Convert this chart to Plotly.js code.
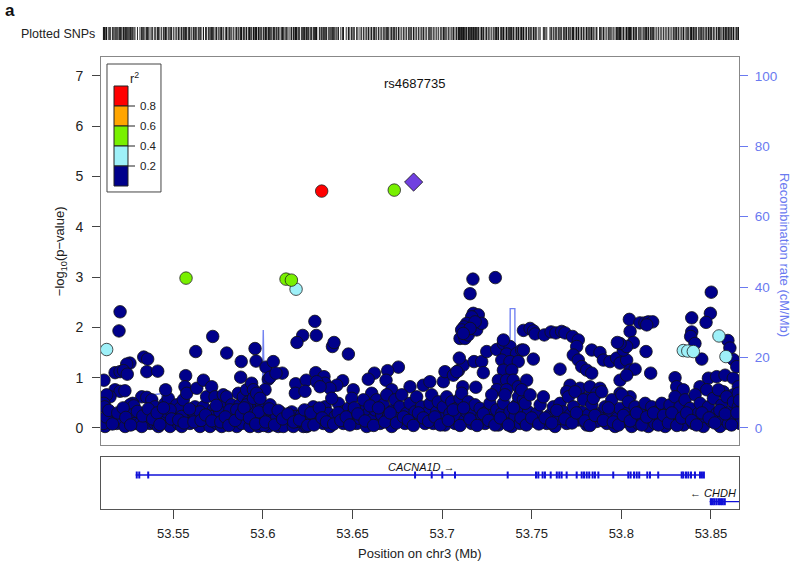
<!DOCTYPE html>
<html>
<head>
<meta charset="utf-8">
<script src="https://cdn.plot.ly/plotly-3.0.1.min.js"></script>
<style>
  body { margin: 0; background: #fff; }
  #plot { width: 800px; height: 567px; }
</style>
</head>
<body>
<div id="plot"></div>
<script>
// SNPs with r2 < 0.2 : [position (Mb), -log10 p]
const navyLeft = [
  [53.5203,2.31],[53.5197,1.93],[53.5720,1.82],[53.5625,1.52],[53.5798,1.49],[53.5956,1.58],[53.5962,1.33],
  [53.5879,1.32],[53.6017,1.21],[53.6058,1.32],[53.6222,1.84],[53.6190,1.70],[53.6290,2.12],[53.6298,1.84],
  [53.5335,1.41],[53.5357,1.37],[53.5258,1.29],[53.5240,1.27],[53.5352,1.12],[53.5413,1.13],
  [53.5175,1.10],[53.5203,1.12],[53.5222,1.14],[53.5243,1.07],[53.5113,0.95],[53.5569,1.04],[53.5876,1.01],
  [53.6030,0.97],[53.6040,1.01],[53.6108,1.09],[53.6073,1.09],[53.6183,0.88],[53.6242,0.95],[53.6181,0.69],
  [53.6235,0.73],[53.5175,0.76],[53.5203,0.73],[53.5230,0.74],[53.5147,0.62],[53.5128,0.66],[53.5113,0.49],
  [53.5117,0.42],[53.5324,0.62],[53.5352,0.61],[53.5380,0.56],[53.5398,0.42],[53.5273,0.49],[53.5258,0.46],
  [53.5280,0.44],[53.5119,0.03],[53.5147,0.13],[53.5165,0.26],[53.5212,0.13],[53.5249,0.16],[53.5268,0.26],
  [53.5286,0.09],[53.5314,0.09],[53.5342,0.13],[53.5370,0.09],[53.5398,0.09],[53.5435,0.16],[53.5454,0.23],
  [53.5463,0.32],[53.5454,0.49],[53.5472,0.59],[53.5457,0.76],[53.5500,0.09],[53.5510,0.29],[53.5519,0.46],
  [53.5537,0.39],[53.5556,0.56],[53.5565,0.82],[53.5575,0.69],[53.5584,0.29],[53.5603,0.19],[53.5621,0.42],
  [53.5631,0.79],[53.5640,0.23],[53.5668,0.95],[53.5668,0.42],[53.5686,0.62],[53.5696,0.09],[53.5714,0.82],
  [53.5723,0.36],[53.5733,0.62],[53.5751,0.23],[53.5770,0.42],[53.5779,0.66],[53.5798,0.62],[53.5798,0.09],
  [53.5826,0.46],[53.5835,0.26],[53.5854,0.03],[53.5863,0.69],[53.5872,0.46],[53.5891,0.62],[53.5909,0.76],
  [53.5900,0.16],[53.5919,0.52],[53.5937,0.89],[53.5947,0.76],[53.5956,0.42],[53.5965,0.19],[53.5984,0.16],
  [53.5993,0.46],[53.6002,0.29],[53.6012,0.76],[53.6021,0.23],[53.6030,0.03],[53.6049,0.32],[53.6058,0.16],
  [53.6077,0.23],[53.6095,0.32],[53.6105,0.09],[53.6123,0.23],[53.6133,0.09],[53.6151,0.16],[53.6161,0.32],
  [53.6179,0.23],[53.6198,0.09],[53.6216,0.26],[53.6226,0.03],[53.6254,0.16],[53.6281,0.42],
  [53.5110,0.09],[53.5184,0.09],[53.5231,0.03],[53.5324,0.03],[53.5417,0.03],[53.5482,0.03],[53.5528,0.09],
  [53.5547,0.03],[53.5593,0.09],[53.5649,0.03],[53.5705,0.03],[53.5742,0.09],[53.5770,0.03],[53.5816,0.16],
  [53.5882,0.09],[53.5928,0.03],[53.5947,0.16],[53.5975,0.03],[53.6005,0.05],[53.6086,0.03],[53.6114,0.03],
  [53.6170,0.03],[53.6188,0.13],[53.6244,0.03],[53.6263,0.09],
  [53.5482,0.36],[53.5547,0.23],[53.5612,0.32],[53.5649,0.32],[53.5705,0.23],[53.5760,0.32],[53.5816,0.36],
  [53.5854,0.36],[53.5928,0.32],[53.5975,0.32],[53.6040,0.46],[53.5909,0.46],[53.5947,0.59],[53.5965,0.69],
  [53.5984,0.59]
];
const navyMid = [
  [53.6388,1.62],[53.6397,1.70],[53.6477,1.47],[53.6756,1.21],[53.6696,1.14],[53.6687,0.95],[53.6622,1.09],
  [53.6588,0.97],[53.6295,1.10],[53.6341,1.02],[53.6347,0.89],[53.6300,0.92],[53.6445,0.94],[53.6412,0.85],
  [53.6374,0.79],[53.6319,0.82],[53.6504,0.76],[53.6607,0.69],[53.6719,0.76],[53.6821,0.82],[53.6895,0.85],
  [53.6932,0.92],[53.7007,0.92],[53.7016,1.12],[53.7063,1.05],[53.7091,1.14],[53.7118,1.25],[53.7096,1.39],
  [53.7172,2.96],[53.7297,2.99],[53.7156,2.67],
  [53.7174,2.28],[53.7202,2.25],[53.7165,2.21],[53.7137,2.08],[53.7122,2.01],[53.7109,1.95],[53.7100,1.78],
  [53.7128,1.78],[53.7146,1.85],[53.7193,1.95],[53.7221,2.08],[53.7184,2.11],[53.7156,1.98],[53.7118,1.88],
  [53.7178,1.32],[53.7221,1.32],[53.7230,1.10],[53.7188,0.81],[53.7115,0.82],[53.7082,1.12],
  [53.7249,1.52],[53.7305,1.56],[53.7342,1.68],[53.7379,1.62],[53.7360,1.47],[53.7416,1.48],[53.7444,1.55],
  [53.7342,1.75],[53.7333,1.35],[53.7379,1.32],[53.7425,1.32],[53.7342,1.15],[53.7389,1.15],[53.7314,0.95],
  [53.7360,0.95],[53.7397,0.95],[53.7425,0.82],[53.7305,0.76],[53.7360,0.76],
  [53.6272,0.23],[53.6300,0.16],[53.6291,0.32],[53.6347,0.42],[53.6365,0.29],[53.6337,0.09],[53.6375,0.03],
  [53.6403,0.23],[53.6421,0.49],[53.6384,0.59],[53.6449,0.09],[53.6449,0.32],[53.6477,0.39],[53.6496,0.26],
  [53.6496,0.59],[53.6523,0.09],[53.6542,0.19],[53.6551,0.36],[53.6561,0.56],[53.6579,0.03],[53.6589,0.29],
  [53.6607,0.16],[53.6626,0.36],[53.6635,0.56],[53.6654,0.09],[53.6663,0.26],[53.6672,0.46],[53.6691,0.66],
  [53.6700,0.23],[53.6719,0.03],[53.6728,0.36],[53.6737,0.56],[53.6756,0.19],[53.6765,0.42],[53.6775,0.66],
  [53.6793,0.09],[53.6802,0.29],[53.6821,0.49],[53.6830,0.09],[53.6849,0.32],[53.6858,0.62],[53.6877,0.19],
  [53.6886,0.42],[53.6905,0.09],[53.6914,0.29],[53.6933,0.49],[53.6942,0.66],[53.6951,0.09],[53.6970,0.32],
  [53.6979,0.52],[53.6998,0.19],[53.7007,0.42],[53.7016,0.06],[53.7026,0.62],[53.7044,0.29],[53.7054,0.52],
  [53.7072,0.09],[53.7081,0.39],[53.7091,0.23],[53.7100,0.59],[53.7109,0.69],[53.7128,0.16],[53.7137,0.32],
  [53.7147,0.52],[53.7165,0.09],[53.7174,0.29],[53.7184,0.46],[53.7202,0.13],[53.7212,0.39],[53.7221,0.23],
  [53.7240,0.09],[53.7249,0.32],[53.7267,0.49],[53.7277,0.66],[53.7286,0.16],[53.7305,0.36],[53.7314,0.06],
  [53.7333,0.29],[53.7342,0.49],[53.7351,0.66],[53.7361,0.16],[53.7379,0.32],[53.7388,0.03],[53.7407,0.23],
  [53.7416,0.46],[53.7426,0.62],[53.7435,0.09],[53.7453,0.32],[53.7453,0.56]
];
const navyRight = [
  [53.7454,1.94],[53.7491,1.98],[53.7510,1.93],[53.7519,1.87],[53.7570,1.85],[53.7608,1.91],[53.7635,1.89],
  [53.7667,1.92],[53.7686,1.89],[53.7728,1.82],[53.7760,1.75],
  [53.7751,1.62],[53.7732,1.45],[53.7760,1.35],[53.7779,1.22],[53.7807,1.15],[53.7835,1.09],[53.7835,1.55],
  [53.7881,1.50],[53.7900,1.35],[53.7937,1.32],[53.7974,1.39],[53.7993,1.29],[53.8030,1.35],[53.8049,1.15],
  [53.8077,1.17],[53.7993,0.95],[53.8030,1.05],[53.8011,1.55],
  [53.7454,1.55],[53.7509,1.37],[53.7658,1.17],[53.7472,0.95],[53.7444,0.76],
  [53.7714,0.85],[53.7770,0.79],[53.7825,0.82],[53.7881,0.79],[53.7695,0.72],[53.7807,0.59],[53.7863,0.69],
  [53.7993,0.69],[53.8049,0.62],[53.8300,1.00],[53.8309,0.82],[53.8346,0.76],[53.8439,0.82],[53.8486,0.99],
  [53.8532,1.02],[53.8579,1.05],[53.8625,0.99],[53.8653,0.82],[53.8569,0.72],[53.8625,0.66],
  [53.8045,2.16],[53.8104,2.09],[53.8132,2.09],[53.8151,2.11],[53.8175,2.11],[53.8142,2.05],[53.8049,1.92],
  [53.8067,1.70],[53.8030,1.62],[53.7993,1.68],[53.7978,1.70],[53.8138,1.52],[53.8164,1.09],
  [53.8502,2.70],[53.8497,2.28],[53.8473,2.10],[53.8393,2.19],[53.8393,1.91],[53.8387,1.82],[53.8411,1.68],
  [53.8449,1.37],[53.8595,1.74],[53.8606,1.59],[53.8625,1.36],[53.8644,1.22],
  [53.7454,0.16],[53.7482,0.32],[53.7463,0.49],[53.7491,0.66],[53.7519,0.13],[53.7528,0.29],[53.7547,0.46],
  [53.7565,0.62],[53.7584,0.09],[53.7602,0.26],[53.7621,0.42],[53.7630,0.03],[53.7649,0.19],[53.7658,0.49],
  [53.7677,0.32],[53.7695,0.09],[53.7714,0.26],[53.7705,0.62],[53.7733,0.42],[53.7742,0.72],[53.7761,0.16],
  [53.7779,0.32],[53.7789,0.56],[53.7807,0.06],[53.7816,0.26],[53.7835,0.46],[53.7844,0.59],[53.7863,0.13],
  [53.7881,0.29],[53.7891,0.72],[53.7909,0.42],[53.7919,0.09],[53.7937,0.26],[53.7947,0.56],[53.7965,0.03],
  [53.7975,0.19],[53.7993,0.39],[53.8003,0.66],[53.8021,0.13],[53.8031,0.29],[53.8040,0.52],[53.8058,0.03],
  [53.8068,0.23],[53.8077,0.42],[53.8095,0.09],[53.8105,0.32],[53.8123,0.16],[53.8133,0.49],[53.8151,0.03],
  [53.8161,0.26],[53.8170,0.42],[53.8188,0.09],[53.8198,0.32],[53.8217,0.19],[53.8226,0.49],[53.8245,0.03],
  [53.8254,0.29],[53.8272,0.46],[53.8291,0.13],[53.8300,0.62],[53.8319,0.26],[53.8328,0.42],[53.8347,0.06],
  [53.8356,0.56],[53.8374,0.23],[53.8384,0.39],[53.8402,0.09],[53.8412,0.66],[53.8430,0.29],[53.8440,0.49],
  [53.8458,0.03],[53.8467,0.23],[53.8477,0.76],[53.8486,0.42],[53.8505,0.13],[53.8514,0.59],[53.8533,0.29],
  [53.8542,0.76],[53.8551,0.03],[53.8561,0.46],[53.8570,0.19],[53.8588,0.62],[53.8598,0.09],[53.8607,0.32],
  [53.8626,0.52],[53.8635,0.16],[53.8653,0.42],[53.8663,0.09],[53.8653,0.69]
];
// extra points in the dense low band
const navyBand = [
  [53.5125,0.22],[53.5140,0.35],[53.5160,0.08],[53.5190,0.30],[53.5220,0.40],[53.5235,0.21],[53.5262,0.06],
  [53.5300,0.33],[53.5330,0.24],[53.5360,0.38],[53.5385,0.18],[53.5410,0.30],[53.5425,0.07],[53.5445,0.40],
  [53.5490,0.18],[53.5530,0.16],[53.5560,0.10],[53.5590,0.38],[53.5615,0.12],[53.5655,0.15],[53.5680,0.26],
  [53.5715,0.14],[53.5740,0.45],[53.5765,0.12],[53.5790,0.22],[53.5810,0.05],[53.5845,0.15],[53.5880,0.28],
  [53.5895,0.40],[53.5925,0.20],[53.5960,0.08],[53.6015,0.12],[53.6035,0.38],[53.6065,0.06],[53.6085,0.35],
  [53.6110,0.18],[53.6140,0.28],[53.6172,0.12],[53.6205,0.16],[53.6232,0.36],[53.6250,0.05],[53.6268,0.30],
  [53.6285,0.06],[53.6315,0.40],[53.6330,0.20],[53.6355,0.12],[53.6395,0.08],[53.6420,0.30],[53.6435,0.15],
  [53.6465,0.22],[53.6485,0.06],[53.6510,0.40],[53.6530,0.28],[53.6570,0.14],[53.6598,0.44],[53.6618,0.05],
  [53.6645,0.40],[53.6680,0.12],[53.6710,0.30],[53.6745,0.10],[53.6785,0.22],[53.6812,0.15],[53.6840,0.05],
  [53.6868,0.30],[53.6895,0.20],[53.6925,0.13],[53.6960,0.22],[53.6990,0.06],[53.7035,0.15],[53.7062,0.36],
  [53.7100,0.05],[53.7120,0.40],[53.7155,0.18],[53.7195,0.05],[53.7230,0.28],[53.7260,0.15],[53.7295,0.06],
  [53.7325,0.20],[53.7370,0.06],[53.7398,0.40],[53.7440,0.20],
  [53.7470,0.06],[53.7500,0.20],[53.7540,0.08],[53.7575,0.20],[53.7612,0.10],[53.7640,0.35],[53.7685,0.18],
  [53.7725,0.10],[53.7750,0.30],[53.7797,0.14],[53.7825,0.05],[53.7853,0.25],[53.7900,0.15],[53.7928,0.40],
  [53.7955,0.12],[53.7985,0.06],[53.8012,0.25],[53.8050,0.14],[53.8085,0.30],[53.8115,0.06],[53.8142,0.22],
  [53.8180,0.30],[53.8207,0.06],[53.8236,0.25],[53.8263,0.10],[53.8282,0.30],[53.8310,0.05],[53.8337,0.20],
  [53.8365,0.30],[53.8392,0.15],[53.8420,0.06],[53.8450,0.30],[53.8490,0.20],[53.8522,0.10],[53.8550,0.35],
  [53.8580,0.28],[53.8615,0.06],[53.8645,0.30],[53.8660,0.55]
];

// SNPs in LD with the index SNP
const ldPos  = [53.5128, 53.6185, 53.8346, 53.8371, 53.8402, 53.8545, 53.8584, 53.5571, 53.6129, 53.6159, 53.6733, 53.6328];
const ldLogP = [1.56, 2.76, 1.54, 1.53, 1.52, 1.83, 1.42, 2.98, 2.96, 2.94, 4.73, 4.71];
const ldR2   = [0.3, 0.3, 0.3, 0.3, 0.3, 0.3, 0.3, 0.5, 0.5, 0.5, 0.5, 0.85];

const indexSnp = 'rs4687735';
const indexPos = [53.6841];
const indexLogP = [4.89];

// recombination rate (cM/Mb)
const recPos  = [53.5097, 53.5200, 53.5300, 53.5378, 53.5380, 53.5400, 53.5436, 53.5440, 53.5700, 53.5995, 53.6002,
                 53.6010, 53.6178, 53.6180, 53.6225, 53.6228, 53.6340, 53.6345, 53.6350, 53.7000, 53.7378, 53.7380,
                 53.7406, 53.7408, 53.7700, 53.7705, 53.7740, 53.7770, 53.7772, 53.8000, 53.8300, 53.8660];
const recRate = [0.8, 1.2, 1.0, 1.2, 9.2, 9.5, 9.8, 1.0, 0.6, 0.8, 27.8,
                 0.7, 0.6, 5.6, 5.6, 0.6, 0.6, 5.8, 0.6, 0.5, 0.4, 33.9,
                 33.9, 0.4, 0.4, 2.0, 2.4, 3.2, 0.5, 0.4, 0.6, 1.0];

// genes
const cacna1dSpan = [53.5290, 53.8461];
const cacna1dExons = [53.5296, 53.5310, 53.5360, 53.6849, 53.6942, 53.7001, 53.7072, 53.7366, 53.7524, 53.7537,
  53.7561, 53.7574, 53.7606, 53.7640, 53.7654, 53.7667, 53.7695, 53.7751, 53.7779, 53.7792, 53.7807, 53.7821,
  53.7840, 53.7853, 53.7872, 53.7955, 53.8039, 53.8052, 53.8071, 53.8086, 53.8100, 53.8145, 53.8160, 53.8206,
  53.8337, 53.8346, 53.8361, 53.8374, 53.8389, 53.8411, 53.8439, 53.8450, 53.8461];
const chdhSpan = [53.8493, 53.8700];
const chdhExons = [53.8500, 53.8510, 53.8520, 53.8532, 53.8545, 53.8556, 53.8566, 53.8577];

const xTicks = [53.55, 53.6, 53.65, 53.7, 53.75, 53.8, 53.85];
const yTicks = [0, 1, 2, 3, 4, 5, 6, 7];
const recTicks = [0, 20, 40, 60, 80, 100];
const legendBreaks = [0.8, 0.6, 0.4, 0.2];

const navy = navyLeft.concat(navyMid, navyRight, navyBand);
const allPos = navy.map(d => d[0]).concat(ldPos, indexPos);

function ldColor(r2) {
  if (r2 >= 0.8) return '#ff0000';
  if (r2 >= 0.6) return '#ffa500';
  if (r2 >= 0.4) return '#78f000';
  if (r2 >= 0.2) return '#9ef0f8';
  return '#00008b';
}

const FONT = 'Liberation Sans, Arial, sans-serif';
const REC_COL = '#6a7af0';
const GENE_COL = '#1010d8';

const traces = [
  { x: recPos, y: recRate, xaxis: 'x2', yaxis: 'y', mode: 'lines',
    line: {color: 'rgba(100,118,240,0.9)', width: 1.4}, hoverinfo: 'skip' },
  { x: navy.map(d => d[0]), y: navy.map(d => d[1]), xaxis: 'x2', yaxis: 'y3', mode: 'markers',
    marker: {size: 12.5, color: ldColor(0.1), line: {color: '#111', width: 0.8}} },
  { x: ldPos, y: ldLogP, xaxis: 'x2', yaxis: 'y3', mode: 'markers',
    marker: {size: 12.5, color: ldR2.map(ldColor), line: {color: '#222', width: 0.8}} },
  { x: indexPos, y: indexLogP, xaxis: 'x2', yaxis: 'y3', mode: 'markers',
    marker: {size: 14, symbol: 'diamond', color: '#7040e0', line: {color: '#111', width: 0.8}} },
  { x: allPos, y: allPos.map(() => 0.5), xaxis: 'x3', yaxis: 'y4', mode: 'markers',
    marker: {symbol: 'line-ns-open', size: 13, color: '#111', line: {color: '#111', width: 0.9}} },
  { x: cacna1dSpan, y: [0.654, 0.654], xaxis: 'x', yaxis: 'y2', mode: 'lines',
    line: {color: GENE_COL, width: 1.3} },
  { x: cacna1dExons, y: cacna1dExons.map(() => 0.654), xaxis: 'x', yaxis: 'y2', mode: 'markers',
    marker: {symbol: 'line-ns-open', size: 5, color: GENE_COL, line: {color: GENE_COL, width: 2}} },
  { x: chdhSpan, y: [0.14, 0.14], xaxis: 'x', yaxis: 'y2', mode: 'lines',
    line: {color: GENE_COL, width: 1.3} },
  { x: chdhExons, y: chdhExons.map(() => 0.14), xaxis: 'x', yaxis: 'y2', mode: 'markers',
    marker: {symbol: 'line-ns-open', size: 5, color: GENE_COL, line: {color: GENE_COL, width: 2.2}} }
];

// legend colour bar, paper coords
const legendColors = [0.9, 0.7, 0.5, 0.3, 0.1].map(ldColor);
const cellTop = 0.865, cellH = 0.0409;
const shapes = [
  {type: 'rect', xref: 'paper', yref: 'paper', x0: 0.0094, x1: 0.094, y0: 0.6483, y1: 0.91,
   line: {color: '#444', width: 1}, fillcolor: 'white'}
];
legendColors.forEach((c, i) => {
  shapes.push({type: 'rect', xref: 'paper', yref: 'paper', x0: 0.0204, x1: 0.0423,
    y0: cellTop - (i + 1) * cellH, y1: cellTop - i * cellH, line: {color: '#222', width: 1}, fillcolor: c});
});
const annotations = [];
legendBreaks.forEach((b, i) => {
  const yy = cellTop - (i + 1) * cellH;
  shapes.push({type: 'line', xref: 'paper', yref: 'paper', x0: 0.0423, x1: 0.0533, y0: yy, y1: yy,
    line: {color: '#222', width: 1}});
  annotations.push({xref: 'paper', yref: 'paper', x: 0.058, y: yy, xanchor: 'left', yanchor: 'middle',
    text: String(b), showarrow: false, font: {family: FONT, size: 11.5, color: '#222'}});
});

const ann = (o) => Object.assign({xref: 'paper', yref: 'paper', xanchor: 'center', yanchor: 'middle', showarrow: false}, o);
annotations.push(
  ann({x: 0.053, y: 0.882, text: 'r<sup>2</sup>', font: {family: FONT, size: 12.5, color: '#222'}}),
  ann({x: -0.1426, y: 1.0204, text: '<b>a</b>', font: {family: FONT, size: 17, color: '#111'}}),
  ann({x: -0.006, y: 0.9714, xanchor: 'right', text: 'Plotted SNPs', font: {family: FONT, size: 12.5, color: '#222'}}),
  ann({x: 0.492, y: 0.871, text: indexSnp, font: {family: FONT, size: 13, color: '#111'}}),
  ann({x: -0.064, y: 0.5276, textangle: -90, text: '−log<sub>10</sub>(p−value)', font: {family: FONT, size: 13, color: '#222'}}),
  ann({x: 1.072, y: 0.5194, textangle: 90, text: 'Recombination rate (cM/Mb)', font: {family: FONT, size: 13, color: REC_COL}}),
  ann({x: 0.5, y: -0.09, text: 'Position on chr3 (Mb)', font: {family: FONT, size: 13, color: '#222'}}),
  ann({xref: 'x', yref: 'y2', x: 53.6885, y: 0.81, text: '<i>CACNA1D</i> →', font: {family: FONT, size: 11, color: '#111'}}),
  ann({xref: 'x', yref: 'y2', x: 53.8512, y: 0.31, text: '← <i>CHDH</i>', font: {family: FONT, size: 11, color: '#111'}})
);

const xRange = [53.50965, 53.86568];
const layout = {
  width: 800, height: 567,
  margin: {l: 101, r: 61, t: 20, b: 58},
  paper_bgcolor: 'white', plot_bgcolor: 'white',
  showlegend: false,
  font: {family: FONT, size: 13, color: '#222'},
  xaxis: {domain: [0, 1], anchor: 'y2', range: xRange, tickvals: xTicks, ticktext: xTicks.map(String),
    ticks: 'outside', ticklen: 9, tickcolor: '#444', showline: true, mirror: true, linecolor: '#555',
    showgrid: false, zeroline: false, ticklabelstandoff: 3, tickfont: {size: 13}},
  xaxis2: {matches: 'x', anchor: 'y3', showticklabels: false, ticks: '', showline: true, mirror: true,
    linecolor: '#888', showgrid: false, zeroline: false},
  xaxis3: {matches: 'x', anchor: 'y4', visible: false},
  yaxis: {domain: [0.1309, 0.9243], anchor: 'x2', side: 'right', range: [-4.83, 105.37], tickvals: recTicks,
    ticks: 'outside', ticklen: 8, tickcolor: REC_COL, tickfont: {color: REC_COL, size: 13.5},
    showline: true, linecolor: '#888', showgrid: false, zeroline: false, ticklabelstandoff: 4},
  yaxis3: {overlaying: 'y', anchor: 'x2', side: 'left', range: [-0.338, 7.376], tickvals: yTicks,
    ticks: 'outside', ticklen: 8, tickcolor: '#444', tickfont: {size: 14}, showline: true, linecolor: '#888',
    showgrid: false, zeroline: false, ticklabelstandoff: 6},
  yaxis2: {domain: [0, 0.1063], range: [0, 1], showticklabels: false, ticks: '', showline: true, mirror: true,
    linecolor: '#555', showgrid: false, zeroline: false, fixedrange: true},
  yaxis4: {domain: [0.9591, 0.9857], range: [0, 1], visible: false},
  shapes: shapes,
  annotations: annotations
};

Plotly.newPlot('plot', traces, layout, {displayModeBar: false, staticPlot: true});
</script>
</body>
</html>
